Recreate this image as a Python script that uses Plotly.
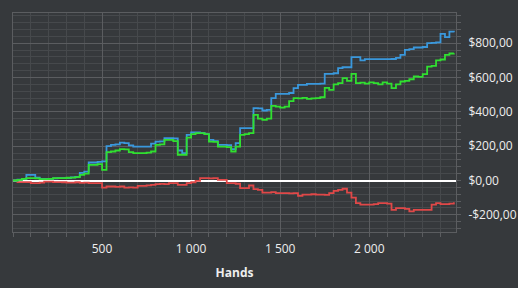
import plotly.graph_objects as go

hands = list(range(0, 2476, 25))

blue = [0, 5, 8, 33, 33, 17, 10, 10, 10, 12, 14, 14, 14, 18, 21, 45, 52, 105, 105, 108,
        111, 200, 208, 210, 221, 218, 205, 198, 198, 198, 198, 215, 227, 228, 247, 247, 245, 175, 160, 266,
        280, 280, 278, 270, 237, 230, 208, 208, 206, 183, 218, 305, 305, 305, 422, 420, 408, 412, 480, 505,
        505, 505, 510, 538, 557, 557, 563, 563, 563, 565, 621, 621, 625, 655, 660, 660, 719, 719, 700, 707,
        707, 707, 707, 707, 707, 708, 715, 732, 761, 765, 775, 775, 778, 800, 802, 805, 854, 835, 868, 864]

green = [0, 4, 10, 14, 14, 12, 8, 8, 10, 14, 14, 14, 16, 17, 20, 33, 40, 91, 91, 95,
         62, 165, 169, 175, 183, 181, 165, 160, 160, 160, 163, 169, 208, 210, 237, 237, 230, 150, 150, 250,
         270, 276, 276, 270, 227, 225, 198, 198, 195, 169, 198, 266, 270, 276, 383, 360, 353, 360, 435, 431,
         425, 431, 462, 480, 478, 482, 476, 478, 480, 485, 540, 528, 560, 567, 596, 580, 621, 567, 570, 565,
         572, 568, 560, 572, 565, 538, 560, 577, 580, 590, 606, 604, 620, 664, 668, 700, 705, 732, 740, 742]

red = [0, -9, -9, -9, -15, -15, -12, -7, -7, -9, -9, -10, -12, -12, -10, -14, -12, -15, -15, -15,
       -41, -35, -35, -37, -35, -41, -40, -41, -31, -31, -28, -25, -21, -20, -21, -15, -15, -25, -25, -15,
       -10, -2, 14, 14, 12, 14, 4, 4, -15, -15, -19, -44, -44, -29, -50, -55, -70, -70, -68, -73,
       -73, -73, -75, -73, -89, -82, -82, -80, -82, -82, -84, -73, -60, -54, -48, -70, -100, -132, -141, -141,
       -141, -138, -132, -132, -135, -171, -161, -161, -165, -180, -171, -171, -171, -171, -141, -132, -138, -138, -135, -126]

y_tickvals = [-200, 0, 200, 400, 600, 800]
y_ticktext = ["-$200,00", "$0,00", "$200,00", "$400,00", "$600,00", "$800,00"]
x_tickvals = [500, 1000, 1500, 2000]
x_ticktext = ["500", "1 000", "1 500", "2 000"]

BG = "#36393c"
MAJOR = "#5b5d60"
MINOR = "#46494c"
FONT = "Open Sans"

fig = go.Figure()
for vals, col in [(red, "#e04848"), (blue, "#3a98dc"), (green, "#30e030")]:
    fig.add_trace(go.Scatter(x=hands, y=vals, mode="lines", line=dict(color=col, width=1.8, shape="hv"),
                             showlegend=False, hoverinfo="skip"))

fig.update_layout(
    width=518, height=288,
    margin=dict(l=13, r=62, t=13, b=56),
    paper_bgcolor=BG, plot_bgcolor=BG,
    font=dict(family=FONT, color="#eeeeee", size=12),
    showlegend=False,
)
fig.update_xaxes(
    automargin=False,
    range=[0, 2487], tickvals=x_tickvals, ticktext=x_ticktext,
    showgrid=True, gridcolor=MAJOR, gridwidth=1,
    ticks="outside", ticklen=4, tickcolor=MAJOR, ticklabelstandoff=2,
    minor=dict(dtick=100, tick0=0, showgrid=True, gridcolor=MINOR, gridwidth=1,
               ticks="outside", ticklen=4, tickcolor=MAJOR),
    showline=True, linecolor=MAJOR, linewidth=1, mirror=True,
    zeroline=False,
    tickfont=dict(size=12, color="#eeeeee"),
    title=dict(text="<b>Hands</b>", font=dict(size=12, color="#eeeeee"), standoff=12),
)
fig.update_yaxes(
    automargin=False,
    range=[-300, 976], side="right", tickvals=y_tickvals, ticktext=y_ticktext,
    showgrid=True, gridcolor=MAJOR, gridwidth=1,
    ticks="outside", ticklen=4, tickcolor=MAJOR, ticklabelstandoff=5,
    minor=dict(dtick=40, tick0=0, showgrid=True, gridcolor=MINOR, gridwidth=1,
               ticks="outside", ticklen=4, tickcolor=MAJOR),
    showline=True, linecolor=MAJOR, linewidth=1, mirror=True,
    zeroline=True, zerolinecolor="#ffffff", zerolinewidth=2,
    tickfont=dict(size=12, color="#eeeeee"),
)

fig.write_html("out.html")
